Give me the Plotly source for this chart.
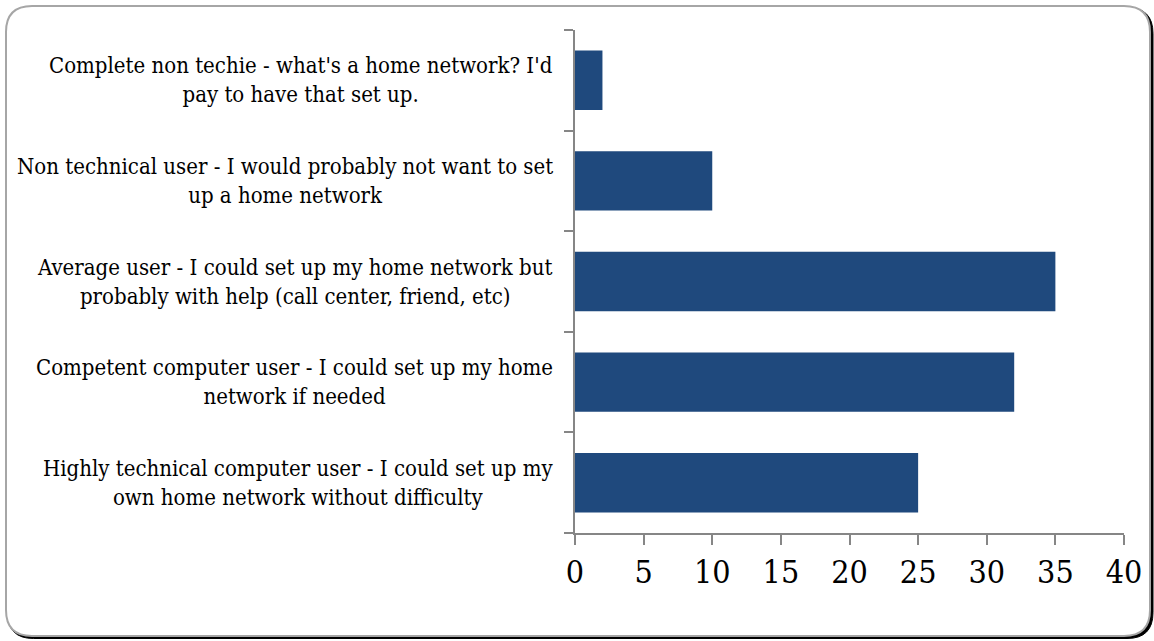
import plotly.graph_objects as go

categories = [
    "Highly technical computer user - I could set up my<br>own home network without difficulty",
    "Competent computer user - I could set up my home<br>network if needed",
    "Average user - I could set up my home network but<br>probably with help (call center, friend, etc)",
    "Non technical user - I would probably not want to set<br>up a home network",
    "Complete non techie - what's a home network? I'd<br>pay to have that set up.",
]
values = [25, 32, 35, 10, 2]
x_ticks = [0, 5, 10, 15, 20, 25, 30, 35, 40]

W, H = 1154, 641
L, R, T, B = 575, 30, 30, 108
pw, ph = W - L - R, H - T - B

FONT = "DejaVu Serif Condensed, DejaVu Serif, serif"

def px(x):
    return (x - L) / pw

def py(y):
    return (H - B - y) / ph

def rrect(x0, y0, x1, y1, r):
    pts = []
    pts.append(f"M {px(x0 + r)},{py(y0)}")
    pts.append(f"L {px(x1 - r)},{py(y0)}")
    pts.append(f"Q {px(x1)},{py(y0)} {px(x1)},{py(y0 + r)}")
    pts.append(f"L {px(x1)},{py(y1 - r)}")
    pts.append(f"Q {px(x1)},{py(y1)} {px(x1 - r)},{py(y1)}")
    pts.append(f"L {px(x0 + r)},{py(y1)}")
    pts.append(f"Q {px(x0)},{py(y1)} {px(x0)},{py(y1 - r)}")
    pts.append(f"L {px(x0)},{py(y0 + r)}")
    pts.append(f"Q {px(x0)},{py(y0)} {px(x0 + r)},{py(y0)}")
    pts.append("Z")
    return " ".join(pts)

fig = go.Figure(go.Bar(
    x=values, y=categories, orientation="h",
    marker=dict(color="#1F497D", line=dict(width=0)),
    hoverinfo="skip",
))

shapes = [
    dict(type="path", xref="paper", yref="paper", path=rrect(7.5, 7.5, 1153, 638.5, 26),
         fillcolor="#000000", line=dict(color="#000000", width=1), layer="below"),
    dict(type="path", xref="paper", yref="paper", path=rrect(6, 6, 1150, 636, 26),
         fillcolor="#FFFFFF", line=dict(color="#A6A6A6", width=2), layer="below"),
]

annotations = []
for c in categories:
    annotations.append(dict(
        x=0, y=c, xref="x", yref="y", text=c, showarrow=False,
        xanchor="right", yanchor="middle", align="center", xshift=-20,
        font=dict(family=FONT, size=22, color="#000000"),
    ))

fig.update_layout(
    width=W, height=H,
    margin=dict(l=L, r=R, t=T, b=B),
    paper_bgcolor="rgba(0,0,0,0)",
    plot_bgcolor="rgba(0,0,0,0)",
    bargap=0.41,
    showlegend=False,
    shapes=shapes,
    annotations=annotations,
    xaxis=dict(
        range=[0, 40], tickvals=x_ticks, ticktext=[str(v) for v in x_ticks],
        showgrid=False, zeroline=False, showline=True, linecolor="#868686", linewidth=2,
        ticks="outside", ticklen=10, tickwidth=2, tickcolor="#868686",
        tickfont=dict(family=FONT, size=32, color="#000000"),
    ),
    yaxis=dict(
        showgrid=False, zeroline=False, showline=True, linecolor="#868686", linewidth=2,
        ticks="outside", ticklen=9, tickwidth=2, tickcolor="#868686",
        tickson="boundaries", showticklabels=False,
    ),
)

fig.write_html(
    "out.html",
    config={"displayModeBar": False},
    post_script="document.body.style.margin='0';document.body.style.overflow='hidden';",
)
